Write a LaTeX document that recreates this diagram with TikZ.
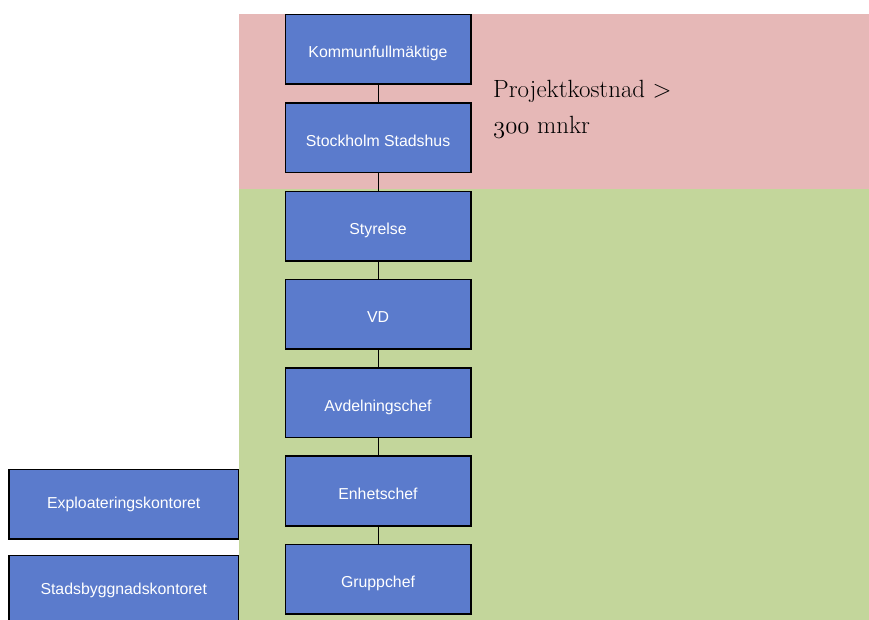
\documentclass[tikz,border=0pt]{standalone}
\usepackage{fontspec}
\newfontfamily\boxfont{Liberation Sans}
\usepackage{tikz}
\usetikzlibrary{positioning}
\definecolor{orgblue}{RGB}{91,123,204}
\definecolor{toppink}{RGB}{230,184,183}
\definecolor{lowgreen}{RGB}{195,214,155}
\newcommand{\oldnum}[1]{{\usefont{OML}{cmm}{m}{it}#1}}
\tikzset{
  org/.style = {rectangle, draw=black, line width=1.5bp, fill=orgblue,
    text=white, font=\boxfont\fontsize{15.9}{18}\selectfont,
    text height=17bp, text depth=0bp,
    minimum width=185.5bp, minimum height=69.5bp, inner sep=0pt},
  office/.style = {org, minimum width=229.5bp, text height=7.5bp}
}

\begin{document}
\begin{tikzpicture}[x=1bp, y=1bp, node distance=17.3bp]
\useasboundingbox (0,0) rectangle (869,620);
% bakgrund
\fill [toppink] (239,431) rectangle (869,606);
\fill [lowgreen] (239,0) rectangle (869,431);
% linjen
\node [org] (kf) at (378,570.5) {Kommunfullmäktige};
\node [org, below=of kf] (stadshus) {Stockholm Stadshus};
\node [org, below=of stadshus] (styrelse) {Styrelse};
\node [org, below=of styrelse] (vd) {VD};
\node [org, below=of vd] (avd) {Avdelningschef};
\node [org, below=of avd] (enhet) {Enhetschef};
\node [org, below=of enhet] (grupp) {Gruppchef};
\draw [line width=1bp] (kf) -- (stadshus) -- (styrelse) -- (vd) -- (avd) -- (enhet) -- (grupp);
% kontoren
\node [office] (expl) at (123.75,115.5) {Exploateringskontoret};
\node [office, below=15bp of expl] (sbk) {Stadsbyggnadskontoret};
\node [anchor=north west, align=left, inner sep=0pt,
  font=\fontsize{25}{36.5}\selectfont] (kostnad) at (493,540)
  {Projektkostnad >\\ \oldnum{300} mnkr};
\end{tikzpicture}
\end{document}
